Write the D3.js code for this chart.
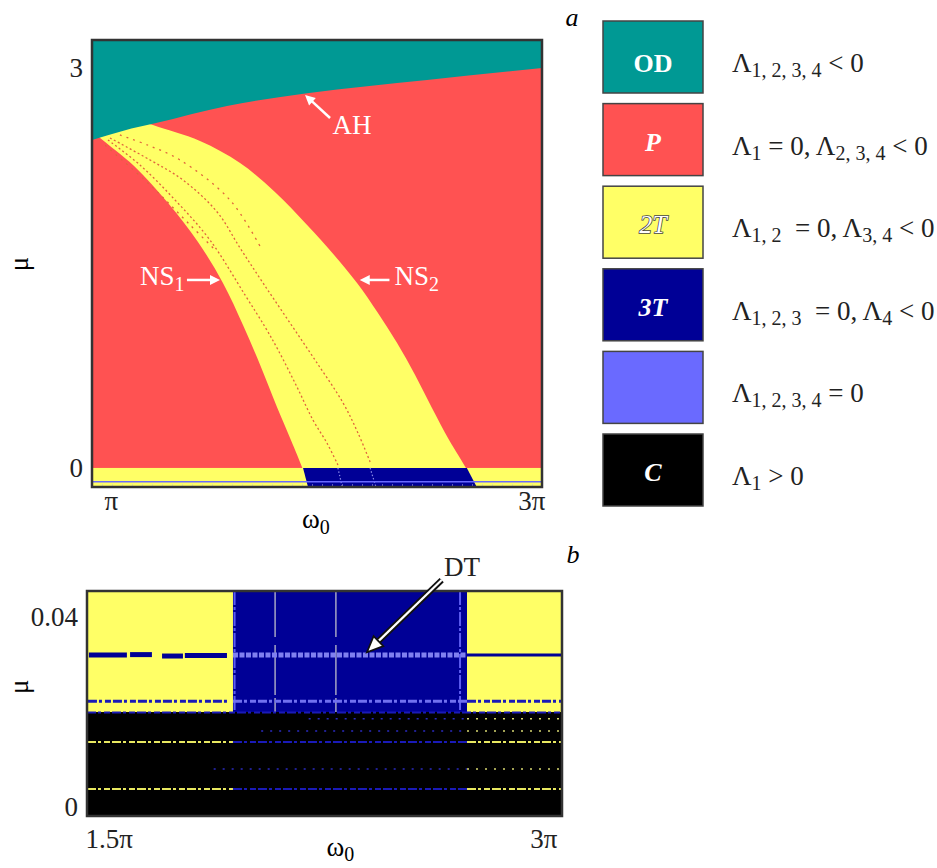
<!DOCTYPE html>
<html>
<head>
<meta charset="utf-8">
<script src="https://cdn.jsdelivr.net/npm/d3@7"></script>
<style>
  body { margin: 0; background: #fff; }
  text { font-family: "Liberation Serif", "Times New Roman", serif; white-space: pre; }
</style>
</head>
<body>
<div id="chart"></div>
<script>
// regime colours
var stateColor = {OD: "#009994", P: "#ff5252", "2T": "#ffff66", "3T": "#000096", "4T": "#6a6aff", C: "#000000"};

// ---------- panel a data (omega0 in units of pi, mu) ----------
var muRangeA = [-0.143, 3.21];
var ahCurve = [[1.0, 2.46], [1.14, 2.53], [1.28, 2.585], [1.60, 2.715], [1.956, 2.81], [2.489, 2.91], [3.0, 3.0]];
var ns1Curve = [[1.0, 2.53], [1.036, 2.475], [1.187, 2.265], [1.338, 1.9875], [1.471, 1.695], [1.582, 1.3875],
                [1.671, 1.0725], [1.751, 0.7575], [1.822, 0.4575], [1.884, 0.21], [1.935, 0.0], [1.945, -0.05]];
var ns2Curve = [[1.182, 2.625], [1.271, 2.5725], [1.48, 2.4525], [1.658, 2.2875], [1.813, 2.07], [1.956, 1.8225],
                [2.076, 1.5975], [2.178, 1.3875], [2.271, 1.1625], [2.356, 0.9375], [2.436, 0.6975],
                [2.511, 0.45], [2.587, 0.21], [2.662, 0.0], [2.676, -0.05]];
// thin resonance lines inside the 2T tongue
var resonanceLines = [
  [[1.08, 2.475], [1.258, 2.31], [1.404, 2.16], [1.556, 1.92], [1.658, 1.65], [1.76, 1.3875],
   [1.88, 1.0875], [2.0, 0.7875], [2.116, 0.4875], [2.182, 0.2625], [2.236, 0.045]],
  [[1.071, 2.46], [1.213, 2.2725], [1.369, 2.01], [1.524, 1.71], [1.68, 1.2975], [1.769, 1.0575],
   [1.827, 0.885], [1.911, 0.6075], [1.982, 0.36], [2.044, 0.1875], [2.093, 0.0225]],
  [[1.124, 2.4975], [1.25, 2.42], [1.391, 2.31], [1.613, 2.01], [1.756, 1.635]],
  [[1.058, 2.42], [1.258, 2.1225], [1.436, 1.8225], [1.547, 1.635]]
];
// continuation of the resonances through the low-mu 3T strip
var stripTraces = [[[2.236, 0.0], [2.262, -0.143]], [[2.093, 0.0], [2.112, -0.143]]];
// low-mu strip: 3T quadrilateral and a quasi-periodic thread
var strip3T = [[1.938, 0.0], [2.666, 0.0], [2.71, -0.143], [1.96, -0.143]];
var stripThreadMu = -0.104;

// annotations panel a
var ahArrow = [[2.058, 2.625], [1.947, 2.7975]], ahLabel = [2.156, 2.505];
var ns1Arrow = [[1.422, 1.41], [1.569, 1.41]], ns1Label = [1.213, 1.3725];
var ns2Arrow = [[2.322, 1.41], [2.19, 1.41]], ns2Label = [2.344, 1.3725];

// ---------- panel b data ----------
var muRangeB = [-0.0019, 0.0455];
var chaosEdge = 0.02;
var bColumns = [[1.5, 1.961, "2T"], [1.961, 2.70, "3T"], [2.70, 3.0, "2T"]];
// heavy threads: [w0, w1, mu, state]
var bHeavy = [[1.506, 1.626, 0.0320, "3T"], [1.636, 1.705, 0.0321, "3T"], [1.737, 1.803, 0.0318, "3T"],
              [1.809, 1.942, 0.0319, "3T"], [2.70, 3.0, 0.0320, "3T"]];
// DT thread (four-frequency torus)
var bDT = [[1.961, 2.70, 0.0320]];
// thin broken threads
var bThin = [[1.503, 1.95, 0.0223, "3T"], [1.961, 2.70, 0.0223, "4T"], [2.70, 3.0, 0.0223, "3T"],
             [1.5, 3.0, 0.0199, "3T"],
             [1.5, 1.961, 0.0137, "2T"], [1.961, 2.70, 0.0137, "3T"], [2.70, 3.0, 0.0137, "2T"],
             [1.5, 1.961, 0.0038, "2T"], [1.961, 2.70, 0.0038, "3T"], [2.70, 3.0, 0.0038, "2T"]];
// sparse dotted threads
var bSparse = [[2.2, 2.70, 0.0186, "3T"], [2.70, 3.0, 0.0186, "2T"], [2.05, 2.70, 0.016, "3T"],
               [2.70, 3.0, 0.016, "2T"], [1.9, 2.70, 0.008, "3T"], [2.70, 3.0, 0.008, "2T"]];
// vertical light lines inside 3T: [w, mu0, mu1]
var bVertical = [[1.966, 0.020, 0.0455], [2.094, 0.020, 0.0455], [2.286, 0.020, 0.0455], [2.678, 0.020, 0.0455]];
var dtArrow = [[2.62, 0.0478], [2.384, 0.0326]], dtLabel = [2.684, 0.0486];

// ---------- legend ----------
var legendStates = ["OD", "P", "2T", "3T", "4T", "C"];
var legendNames = ["OD", "P", "2T", "3T", "", "C"];
var legendConds = [
  [["Λ", 0], ["1, 2, 3, 4", 1], [" < 0", 0]],
  [["Λ", 0], ["1", 1], [" = 0, Λ", 0], ["2, 3, 4", 1], [" < 0", 0]],
  [["Λ", 0], ["1, 2", 1], ["  = 0, Λ", 0], ["3, 4", 1], [" < 0", 0]],
  [["Λ", 0], ["1, 2, 3", 1], ["  = 0, Λ", 0], ["4", 1], [" < 0", 0]],
  [["Λ", 0], ["1, 2, 3, 4", 1], [" = 0", 0]],
  [["Λ", 0], ["1", 1], [" > 0", 0]]
];

var svg = d3.select("#chart").append("svg")
    .attr("width", 937)
    .attr("height", 868);

var defs = svg.append("defs");

// draw an arrow with a filled head
function arrow(g, p1, p2, color, width, headLen, headW) {
  var ang = Math.atan2(p2[1] - p1[1], p2[0] - p1[0]);
  var bx = p2[0] - headLen * Math.cos(ang), by = p2[1] - headLen * Math.sin(ang);
  var px = -Math.sin(ang) * headW, py = Math.cos(ang) * headW;
  g.append("line")
      .attr("x1", p1[0]).attr("y1", p1[1]).attr("x2", bx + Math.cos(ang) * 2).attr("y2", by + Math.sin(ang) * 2)
      .attr("stroke", color).attr("stroke-width", width);
  g.append("polygon")
      .attr("points", [p2, [bx + px, by + py], [bx - px, by - py]].map(function(d) { return d.join(","); }).join(" "))
      .attr("fill", color);
}

// ================= panel a =================
var ax = d3.scaleLinear().domain([1, 3]).range([92, 542]);
var ay = d3.scaleLinear().domain(muRangeA).range([487, 40]);

defs.append("clipPath").attr("id", "clipA").append("rect")
    .attr("x", ax(1)).attr("y", ay(muRangeA[1]))
    .attr("width", ax(3) - ax(1)).attr("height", ay(muRangeA[0]) - ay(muRangeA[1]));

var pa = svg.append("g").attr("clip-path", "url(#clipA)");

// periodic background
pa.append("rect")
    .attr("x", ax(1)).attr("y", ay(muRangeA[1]))
    .attr("width", ax(3) - ax(1)).attr("height", ay(muRangeA[0]) - ay(muRangeA[1]))
    .attr("fill", stateColor.P);

var lineA = d3.line()
    .x(function(d) { return ax(d[0]); })
    .y(function(d) { return ay(d[1]); })
    .curve(d3.curveCatmullRom);

// 2T tongue between NS1 and NS2
pa.append("path")
    .attr("d", lineA(ns1Curve.concat(ns2Curve.slice().reverse())) + "Z")
    .attr("fill", stateColor["2T"]);

// resonance lines
pa.selectAll(".res")
    .data(resonanceLines)
    .enter().append("path")
      .attr("class", "res")
      .attr("d", lineA)
      .attr("fill", "none")
      .attr("stroke", "#e0643c")
      .attr("stroke-width", 1.3)
      .attr("stroke-dasharray", function(d, i) { return i < 2 ? "2,2.5" : "2,5"; });

// oscillation death above AH
var ahArea = d3.area()
    .x(function(d) { return ax(d[0]); })
    .y0(ay(muRangeA[1]))
    .y1(function(d) { return ay(d[1]); })
    .curve(d3.curveMonotoneX);
pa.append("path").attr("d", ahArea(ahCurve)).attr("fill", stateColor.OD);

// low-mu strip
pa.append("rect")
    .attr("x", ax(1)).attr("y", ay(0))
    .attr("width", ax(3) - ax(1)).attr("height", ay(muRangeA[0]) - ay(0))
    .attr("fill", stateColor["2T"]);
pa.append("path")
    .attr("d", d3.line().x(function(d) { return ax(d[0]); }).y(function(d) { return ay(d[1]); })(strip3T) + "Z")
    .attr("fill", stateColor["3T"]);
pa.selectAll(".trace")
    .data(stripTraces)
    .enter().append("path")
      .attr("class", "trace")
      .attr("d", d3.line().x(function(d) { return ax(d[0]); }).y(function(d) { return ay(d[1]); }))
      .attr("fill", "none")
      .attr("stroke", "#8a8ae8")
      .attr("stroke-width", 1.2)
      .attr("stroke-dasharray", "1.5,2");
pa.append("line")
    .attr("x1", ax(1)).attr("x2", ax(3))
    .attr("y1", ay(stripThreadMu)).attr("y2", ay(stripThreadMu))
    .attr("stroke", stateColor["4T"]).attr("stroke-width", 1.4);
pa.append("line")
    .attr("x1", ax(1)).attr("x2", ax(3))
    .attr("y1", ay(-0.128)).attr("y2", ay(-0.128))
    .attr("stroke", "#c0c0e0").attr("stroke-width", 1).attr("stroke-dasharray", "1,9");

// frame
svg.append("rect")
    .attr("x", ax(1)).attr("y", ay(muRangeA[1]))
    .attr("width", ax(3) - ax(1)).attr("height", ay(muRangeA[0]) - ay(muRangeA[1]))
    .attr("fill", "none").attr("stroke", "#333").attr("stroke-width", 2.5);

// axes
svg.append("g")
    .attr("transform", "translate(" + ax(1) + ",0)")
    .call(d3.axisLeft(ay).tickValues([0, 3]).tickFormat(d3.format("d")).tickSize(0).tickPadding(9));
var axB = svg.append("g")
    .attr("transform", "translate(0," + ay(muRangeA[0]) + ")")
    .call(d3.axisBottom(ax).tickValues([1, 3]).tickFormat(function(d) { return d === 1 ? "π" : "3π"; })
      .tickSize(0).tickPadding(4));
axB.selectAll(".tick text")
    .attr("text-anchor", function(d) { return d === 1 ? "start" : "end"; })
    .attr("dx", function(d) { return d === 1 ? 12 : 3; });

// axis titles
svg.append("text")
    .attr("transform", "translate(28," + ay(1.53) + ") rotate(-90)")
    .attr("text-anchor", "middle").attr("font-size", 27).text("μ");
var omA = svg.append("text").attr("x", ax(1.995)).attr("y", 528).attr("text-anchor", "middle").attr("font-size", 27);
omA.append("tspan").text("ω");
omA.append("tspan").attr("dy", 6).attr("font-size", 20).text("0");

// annotations
var annA = svg.append("g");
arrow(annA, [ax(ahArrow[0][0]), ay(ahArrow[0][1])], [ax(ahArrow[1][0]), ay(ahArrow[1][1])], "#fff", 2.5, 10, 5);
arrow(annA, [ax(ns1Arrow[0][0]), ay(ns1Arrow[0][1])], [ax(ns1Arrow[1][0]), ay(ns1Arrow[1][1])], "#fff", 2.5, 10, 5);
arrow(annA, [ax(ns2Arrow[0][0]), ay(ns2Arrow[0][1])], [ax(ns2Arrow[1][0]), ay(ns2Arrow[1][1])], "#fff", 2.5, 10, 5);
annA.append("text")
    .attr("x", ax(ahLabel[0])).attr("y", ay(ahLabel[1]))
    .attr("text-anchor", "middle").attr("font-size", 27).attr("fill", "#fff").text("AH");
[[ns1Label, "1"], [ns2Label, "2"]].forEach(function(l) {
  var t = annA.append("text")
      .attr("x", ax(l[0][0])).attr("y", ay(l[0][1]))
      .attr("font-size", 27).attr("fill", "#fff");
  t.append("tspan").text("NS");
  t.append("tspan").attr("dy", 6).attr("font-size", 20).text(l[1]);
});

svg.append("text").attr("x", 572).attr("y", 26).attr("text-anchor", "middle")
    .attr("font-size", 26).attr("font-style", "italic").text("a");

// ================= panel b =================
var bx = d3.scaleLinear().domain([1.5, 3]).range([87, 562]);
var by = d3.scaleLinear().domain(muRangeB).range([816, 591]);

defs.append("clipPath").attr("id", "clipB").append("rect")
    .attr("x", bx(1.5)).attr("y", by(muRangeB[1]))
    .attr("width", bx(3) - bx(1.5)).attr("height", by(muRangeB[0]) - by(muRangeB[1]));

var pb = svg.append("g").attr("clip-path", "url(#clipB)");

pb.append("rect")
    .attr("x", bx(1.5)).attr("y", by(muRangeB[1]))
    .attr("width", bx(3) - bx(1.5)).attr("height", by(muRangeB[0]) - by(muRangeB[1]))
    .attr("fill", stateColor.C);

pb.selectAll(".col")
    .data(bColumns)
    .enter().append("rect")
      .attr("class", "col")
      .attr("x", function(d) { return bx(d[0]); })
      .attr("width", function(d) { return bx(d[1]) - bx(d[0]); })
      .attr("y", by(muRangeB[1]))
      .attr("height", by(chaosEdge) - by(muRangeB[1]))
      .attr("fill", function(d) { return stateColor[d[2]]; });

// vertical light lines in 3T
pb.selectAll(".vl")
    .data(bVertical)
    .enter().append("line")
      .attr("class", "vl")
      .attr("x1", function(d) { return bx(d[0]); })
      .attr("x2", function(d) { return bx(d[0]); })
      .attr("y1", function(d) { return by(d[2]); })
      .attr("y2", function(d) { return by(d[1]); })
      .attr("stroke", function(d, i) { return i === 0 || i === 3 ? "#5c5cf0" : "#a4a4c4"; })
      .attr("stroke-width", function(d, i) { return i === 0 || i === 3 ? 2 : 1.5; })
      .attr("stroke-dasharray", function(d, i) { return i === 0 || i === 3 ? "14,2,3,2" : "46,8,50,3"; });

function hThread(sel, cls, data, width, dash, colorFn) {
  sel.selectAll("." + cls)
      .data(data)
      .enter().append("line")
        .attr("class", cls)
        .attr("x1", function(d) { return bx(d[0]); })
        .attr("x2", function(d) { return bx(d[1]); })
        .attr("y1", function(d) { return by(d[2]); })
        .attr("y2", function(d) { return by(d[2]); })
        .attr("stroke", colorFn)
        .attr("stroke-width", width)
        .attr("stroke-dasharray", dash);
}

hThread(pb, "heavy", bHeavy, function(d) { return d[0] < 2.7 ? 5 : 3; }, null, function(d) { return stateColor[d[3]]; });
hThread(pb, "dt", bDT, 5, "5,1.5", function() { return "#8080f0"; });
hThread(pb, "thin", bThin, function(d) { return d[2] > 0.021 ? 3 : 2; }, "9,2,3,3,6,2",
        function(d) { return d[3] === "4T" ? "#7070f0" : d[3] === "3T" ? "#1a1ab8" : "#e8e860"; });
hThread(pb, "sparse", bSparse, 1.5, "2,7", function(d) { return d[3] === "3T" ? "#2a2ac0" : "#d8d870"; });

svg.append("rect")
    .attr("x", bx(1.5)).attr("y", by(muRangeB[1]))
    .attr("width", bx(3) - bx(1.5)).attr("height", by(muRangeB[0]) - by(muRangeB[1]))
    .attr("fill", "none").attr("stroke", "#333").attr("stroke-width", 2.5);

svg.append("g")
    .attr("transform", "translate(" + bx(1.5) + ",0)")
    .call(d3.axisLeft(by).tickValues([0, 0.04]).tickFormat(function(d) { return d === 0 ? "0" : "0.04"; })
      .tickSize(0).tickPadding(9));
var axBb = svg.append("g")
    .attr("transform", "translate(0," + by(muRangeB[0]) + ")")
    .call(d3.axisBottom(bx).tickValues([1.5, 3]).tickFormat(function(d) { return d === 3 ? "3π" : "1.5π"; })
      .tickSize(0).tickPadding(13));
axBb.selectAll(".tick text")
    .attr("text-anchor", function(d) { return d === 3 ? "end" : "start"; })
    .attr("dx", function(d) { return d === 3 ? -5 : -2; });

svg.selectAll(".domain").remove();
svg.selectAll(".tick text")
    .attr("font-family", "Liberation Serif")
    .attr("font-size", 27)
    .attr("fill", "#222");

svg.append("text")
    .attr("transform", "translate(28," + by(0.0253) + ") rotate(-90)")
    .attr("text-anchor", "middle").attr("font-size", 27).text("μ");
var omB = svg.append("text").attr("x", bx(2.3)).attr("y", 856).attr("text-anchor", "middle").attr("font-size", 27);
omB.append("tspan").text("ω");
omB.append("tspan").attr("dy", 5).attr("font-size", 20).text("0");

// DT arrow: hollow white arrow with black outline
var d1 = [bx(dtArrow[0][0]), by(dtArrow[0][1])], d2 = [bx(dtArrow[1][0]), by(dtArrow[1][1])];
var dAng = Math.atan2(d2[1] - d1[1], d2[0] - d1[0]);
var dBase = [d2[0] - 16 * Math.cos(dAng), d2[1] - 16 * Math.sin(dAng)];
var dPerp = [-Math.sin(dAng) * 7, Math.cos(dAng) * 7];
var dtG = svg.append("g");
dtG.append("line").attr("x1", d1[0]).attr("y1", d1[1]).attr("x2", dBase[0]).attr("y2", dBase[1])
    .attr("stroke", "#111").attr("stroke-width", 6);
dtG.append("line").attr("x1", d1[0]).attr("y1", d1[1]).attr("x2", dBase[0]).attr("y2", dBase[1])
    .attr("stroke", "#fff").attr("stroke-width", 2.2);
dtG.append("polygon")
    .attr("points", [d2, [dBase[0] + dPerp[0], dBase[1] + dPerp[1]], dBase,
                     [dBase[0] - dPerp[0], dBase[1] - dPerp[1]]].map(function(p) { return p.join(","); }).join(" "))
    .attr("fill", "#fff").attr("stroke", "#111").attr("stroke-width", 1.8).attr("stroke-linejoin", "miter");
svg.append("text")
    .attr("x", bx(dtLabel[0])).attr("y", by(dtLabel[1]))
    .attr("text-anchor", "middle").attr("font-size", 27).attr("fill", "#222").text("DT");

svg.append("text").attr("x", 573).attr("y", 563).attr("text-anchor", "middle")
    .attr("font-size", 26).attr("font-style", "italic").text("b");

// ================= legend =================
var legend = svg.append("g");
var rows = legend.selectAll(".row")
    .data(legendStates)
    .enter().append("g")
      .attr("class", "row")
      .attr("transform", function(d, i) { return "translate(603," + (21 + i * 82.6) + ")"; });

rows.append("rect")
    .attr("width", 100).attr("height", 72)
    .attr("fill", function(d) { return stateColor[d]; })
    .attr("stroke", "#444").attr("stroke-width", 1.5);

rows.append("text")
    .attr("x", 50).attr("y", function(d, i) { return i === 0 ? 51 : 47; })
    .attr("text-anchor", "middle")
    .attr("font-size", 26)
    .attr("font-weight", function(d) { return d === "2T" ? "normal" : "bold"; })
    .attr("font-style", function(d) { return d === "OD" ? "normal" : "italic"; })
    .attr("fill", "#fff")
    .attr("stroke", function(d) { return d === "2T" ? "#444" : "none"; })
    .attr("stroke-width", 1.5)
    .attr("paint-order", "stroke")
    .text(function(d, i) { return legendNames[i]; });

rows.each(function(d, i) {
  var t = d3.select(this).append("text")
      .attr("x", 129).attr("y", 51)
      .attr("font-size", 27)
      .attr("fill", "#222");
  var shifted = false;
  legendConds[i].forEach(function(p) {
    var ts = t.append("tspan").text(p[0]);
    if (p[1] && !shifted) { ts.attr("dy", 5).attr("font-size", 20); shifted = true; }
    else if (!p[1] && shifted) { ts.attr("dy", -5); shifted = false; }
  });
});
</script>
</body>
</html>
